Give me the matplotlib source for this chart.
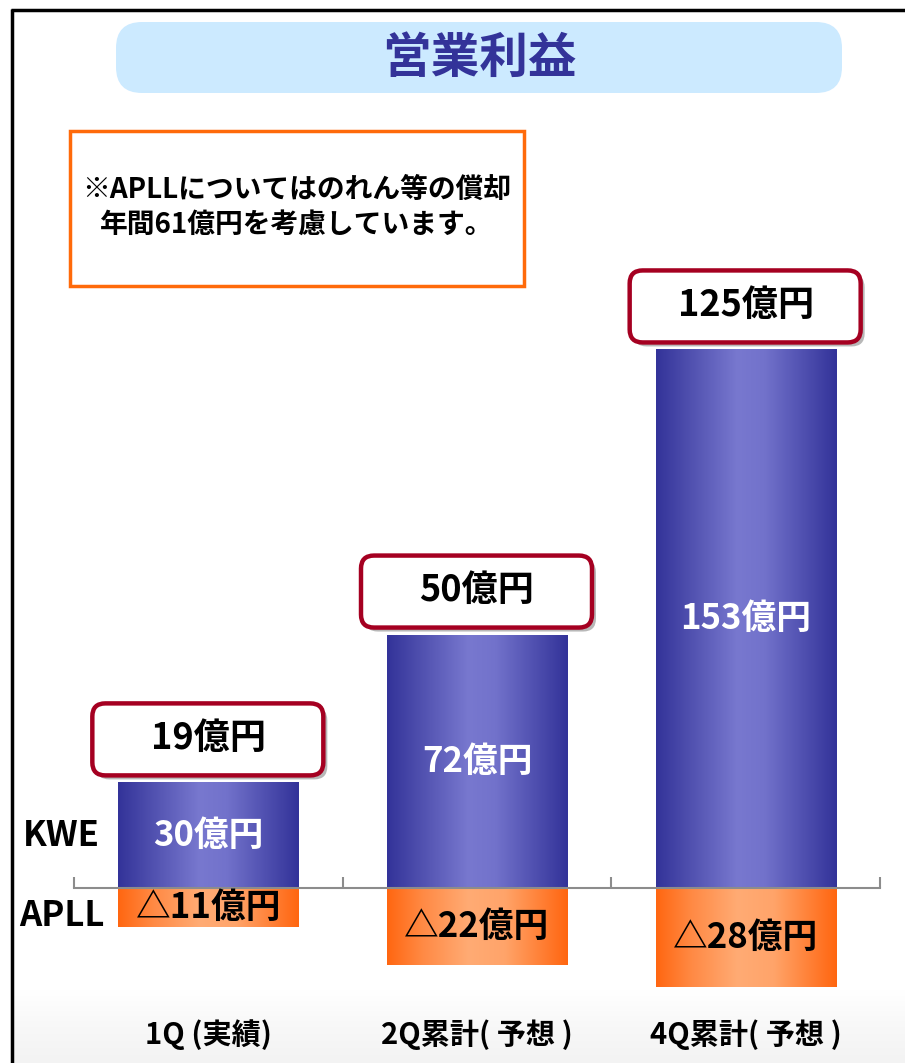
import numpy as np
import matplotlib
matplotlib.use("Agg")
import matplotlib.pyplot as plt
import matplotlib.transforms as mtransforms
from matplotlib.patches import FancyBboxPatch
from matplotlib.colors import LinearSegmentedColormap

plt.rcParams['font.family'] = ['Noto Sans CJK JP', 'DejaVu Sans']
plt.rcParams['font.weight'] = 'bold'

# data
categories = ['1Q (実績)', '2Q累計( 予想 )', '4Q累計( 予想 )']
kwe = [30, 72, 153]
apll = [-11, -22, -28]
kwe_labels = ['30億円', '72億円', '153億円']
apll_labels = ['△11億円', '△22億円', '△28億円']
total_labels = ['19億円', '50億円', '125億円']
series_names = ['KWE', 'APLL']
title = '営業利益'
note = '※APLLについてはのれん等の償却\n年間61億円を考慮しています。'

W, H = 905, 1063
fig = plt.figure(figsize=(W / 100, H / 100), dpi=100)
fig.patch.set_facecolor('white')

# decoration layer in pixel coords (y down)
deco = fig.add_axes([0, 0, 1, 1], zorder=0)
deco.set_xlim(0, W)
deco.set_ylim(H, 0)
deco.axis('off')

# faint grey band at the bottom
band = np.linspace(0, 1, 100).reshape(-1, 1)
band_cmap = LinearSegmentedColormap.from_list('band', ['#ffffff', '#f8f8f8', '#f3f3f3'])
deco.imshow(band, cmap=band_cmap, extent=[12, W, H, 990], aspect='auto', zorder=0)

# frame lines (top and left only)
deco.plot([11, W], [9.5, 9.5], color='black', lw=2.5, solid_capstyle='butt', zorder=5)
deco.plot([11.5, 11.5], [9, H], color='black', lw=2.5, solid_capstyle='butt', zorder=5)

# title box
deco.add_patch(FancyBboxPatch((116, 22), 726, 71, boxstyle='round,pad=0,rounding_size=26',
                              facecolor='#cceaff', edgecolor='none', zorder=1))
deco.text(479, 58, title, ha='center', va='center', fontsize=35, color='#333399',
          fontweight='bold', zorder=2)

# note box
deco.add_patch(FancyBboxPatch((70, 131), 454, 155, boxstyle='square,pad=0',
                              facecolor='white', edgecolor='#ff6a0a', lw=2.5, zorder=1))
deco.text(297, 207, note, ha='center', va='center', fontsize=20, color='black',
          fontweight='bold', linespacing=1.3, multialignment='center', zorder=2)

# series names
deco.text(61, 835, series_names[0], ha='center', va='center', fontsize=25, fontweight='bold')
deco.text(62, 915, series_names[1], ha='center', va='center', fontsize=25, fontweight='bold')

# main axes: baseline at 888 px from top, 3.52 px per unit
ppu = 3.52
base = H - 888
ymin, ymax = -40, 205
ax = fig.add_axes([74 / W, (base + ymin * ppu) / H, 806 / W, (ymax - ymin) * ppu / H], zorder=2)
ax.set_xlim(-0.5, 2.5)
ax.set_ylim(ymin, ymax)
ax.patch.set_visible(False)
for s in ['top', 'left', 'right']:
    ax.spines[s].set_visible(False)
ax.spines['bottom'].set_position(('data', 0))
ax.spines['bottom'].set_color('#8c8c8c')
ax.spines['bottom'].set_linewidth(1.5)
ax.spines['bottom'].set_zorder(6)
ax.set_xticks([-0.5, 0.5, 1.5, 2.5])
ax.set_xticklabels([])
ax.tick_params(axis='x', direction='in', length=8, width=1.5, color='#8c8c8c')
ax.set_yticks([])

x = np.arange(len(categories))
width = 0.67
blue_cmap = LinearSegmentedColormap.from_list(
    'blue', [(0, '#333399'), (0.18, '#4f4fae'), (0.45, '#7878cf'), (0.6, '#7272cb'), (1, '#333399')])
orange_cmap = LinearSegmentedColormap.from_list(
    'orange', [(0, '#ff6611'), (0.2, '#ff8a45'), (0.45, '#ffab74'), (0.65, '#ffa46a'), (1, '#ff6610')])

bars_k = ax.bar(x, kwe, width, color='#333399', zorder=2)
bars_a = ax.bar(x, apll, width, color='#ff6611', zorder=2)

grad = np.linspace(0, 1, 256).reshape(1, -1)
for bars, cmap in [(bars_k, blue_cmap), (bars_a, orange_cmap)]:
    for b in bars:
        x0, y0, bw, bh = b.get_x(), b.get_y(), b.get_width(), b.get_height()
        im = ax.imshow(grad, cmap=cmap, extent=[x0, x0 + bw, y0, y0 + bh],
                       aspect='auto', zorder=3, interpolation='bilinear')
        im.set_clip_path(b)
ax.set_xlim(-0.5, 2.5)
ax.set_ylim(ymin, ymax)

for i in x:
    ax.text(i, kwe[i] / 2, kwe_labels[i], ha='center', va='center', fontsize=25,
            color='white', fontweight='bold', zorder=7)
    ax.text(i, apll[i] / 2, apll_labels[i], ha='center', va='center', fontsize=25,
            color='black', fontweight='bold', zorder=7)

    # total label box, sized in pixels above each KWE bar
    off = mtransforms.IdentityTransform() + mtransforms.ScaledTranslation(i, kwe[i], ax.transData)
    shadow = FancyBboxPatch((-112, 3), 231, 72, boxstyle='round,pad=0,rounding_size=13',
                            facecolor='#9a9a9a', edgecolor='none', alpha=0.7,
                            transform=off, zorder=4, clip_on=False)
    box = FancyBboxPatch((-116, 7), 231, 72, boxstyle='round,pad=0,rounding_size=13',
                         facecolor='white', edgecolor='#a50021', lw=3.2,
                         transform=off, zorder=5, clip_on=False)
    ax.add_patch(shadow)
    ax.add_patch(box)
    ax.annotate(total_labels[i], xy=(i, kwe[i]), xytext=(0, 44), textcoords='offset pixels',
                ha='center', va='center', fontsize=26, fontweight='bold', color='black', zorder=8)

# category labels
blend = mtransforms.blended_transform_factory(ax.transData, deco.transData)
for i, c in enumerate(categories):
    ax.text(i, 1035, c, transform=blend, ha='center', va='center', fontsize=21,
            fontweight='bold', color='black', clip_on=False)

fig.savefig('out.png', dpi=100)
